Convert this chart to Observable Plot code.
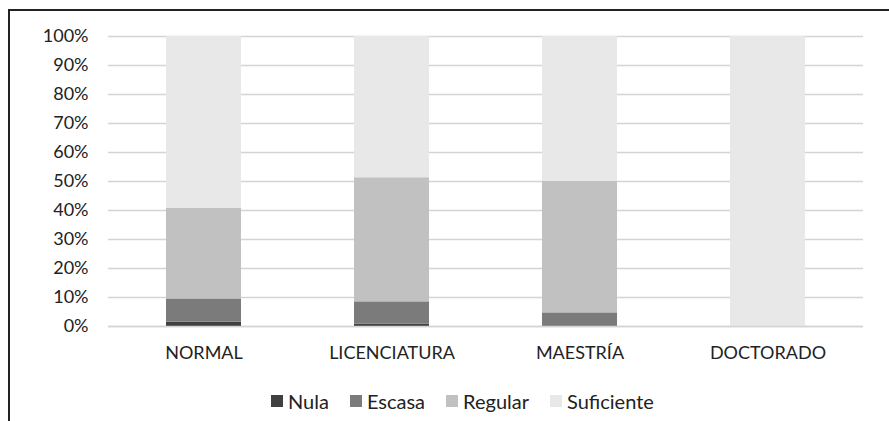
<!DOCTYPE html>
<html>
<head>
<meta charset="utf-8">
<script src="https://cdn.jsdelivr.net/npm/d3@7"></script>
<script src="https://cdn.jsdelivr.net/npm/@observablehq/plot@0.6"></script>
<style>
  html, body { margin: 0; padding: 0; background: #fff; }
  body { width: 889px; height: 421px; position: relative; overflow: hidden; font-family: Lato, "Open Sans", sans-serif; }
  #frame { position: absolute; left: 8px; top: 9px; width: 900px; height: 430px; border-top: 2px solid #222; border-left: 2px solid #222; pointer-events: none; }
  #chart { position: absolute; left: 0; top: 0; }
  #legend { position: absolute; top: 389px; left: 0; width: 889px; }
  #legend .row { display: flex; justify-content: flex-start; margin-left: 271px; font-size: 20px; color: #222; }
  #legend .item { display: flex; align-items: center; margin-right: 21px; }
  #legend .sw { width: 12px; height: 12px; margin-right: 5px; display: inline-block; }
</style>
</head>
<body>
<div id="chart"></div>
<div id="legend"></div>
<div id="frame"></div>
<script>
const categories = ["NORMAL", "LICENCIATURA", "MAESTRÍA", "DOCTORADO"];
const levels = ["Nula", "Escasa", "Regular", "Suficiente"];
const nula = [1.5, 0.8, 0, 0];
const escasa = [8.0, 7.7, 4.7, 0];
const regular = [31.3, 42.8, 45.3, 0];
const suficiente = [59.2, 48.7, 50.0, 100];
const yTicks = [0, 10, 20, 30, 40, 50, 60, 70, 80, 90, 100];
const colors = ["#404040", "#7b7b7b", "#c1c1c1", "#e8e8e8"];

const series = [nula, escasa, regular, suficiente];
const data = [];
categories.forEach((c, i) => {
  levels.forEach((l, j) => data.push({category: c, level: l, value: series[j][i]}));
});

const chart = Plot.plot({
  width: 889,
  height: 380,
  marginTop: 36,
  marginBottom: 54,
  marginLeft: 108,
  marginRight: 26,
  style: {fontFamily: "Lato, 'Open Sans', sans-serif", fontSize: "18px", color: "#222", background: "transparent"},
  x: {domain: categories, paddingInner: 0.6, paddingOuter: 0.3, label: null, tickSize: 0, tickPadding: 20},
  y: {domain: [0, 100], ticks: yTicks, tickFormat: d => d + "%", label: null, tickSize: 0, tickPadding: 20},
  color: {domain: levels, range: colors},
  marks: [
    Plot.gridY(yTicks, {stroke: "#d4d4d4", strokeOpacity: 1, strokeWidth: 1.5}),
    Plot.barY(data, {x: "category", y: "value", fill: "level", order: levels}),
    Plot.ruleY([0], {stroke: "#d4d4d4", strokeWidth: 1.5})
  ]
});
document.getElementById("chart").appendChild(chart);

const row = document.createElement("div");
row.className = "row";
levels.forEach((l, j) => {
  const item = document.createElement("span");
  item.className = "item";
  const sw = document.createElement("span");
  sw.className = "sw";
  sw.style.background = colors[j];
  item.appendChild(sw);
  item.appendChild(document.createTextNode(l));
  row.appendChild(item);
});
document.getElementById("legend").appendChild(row);
</script>
</body>
</html>
